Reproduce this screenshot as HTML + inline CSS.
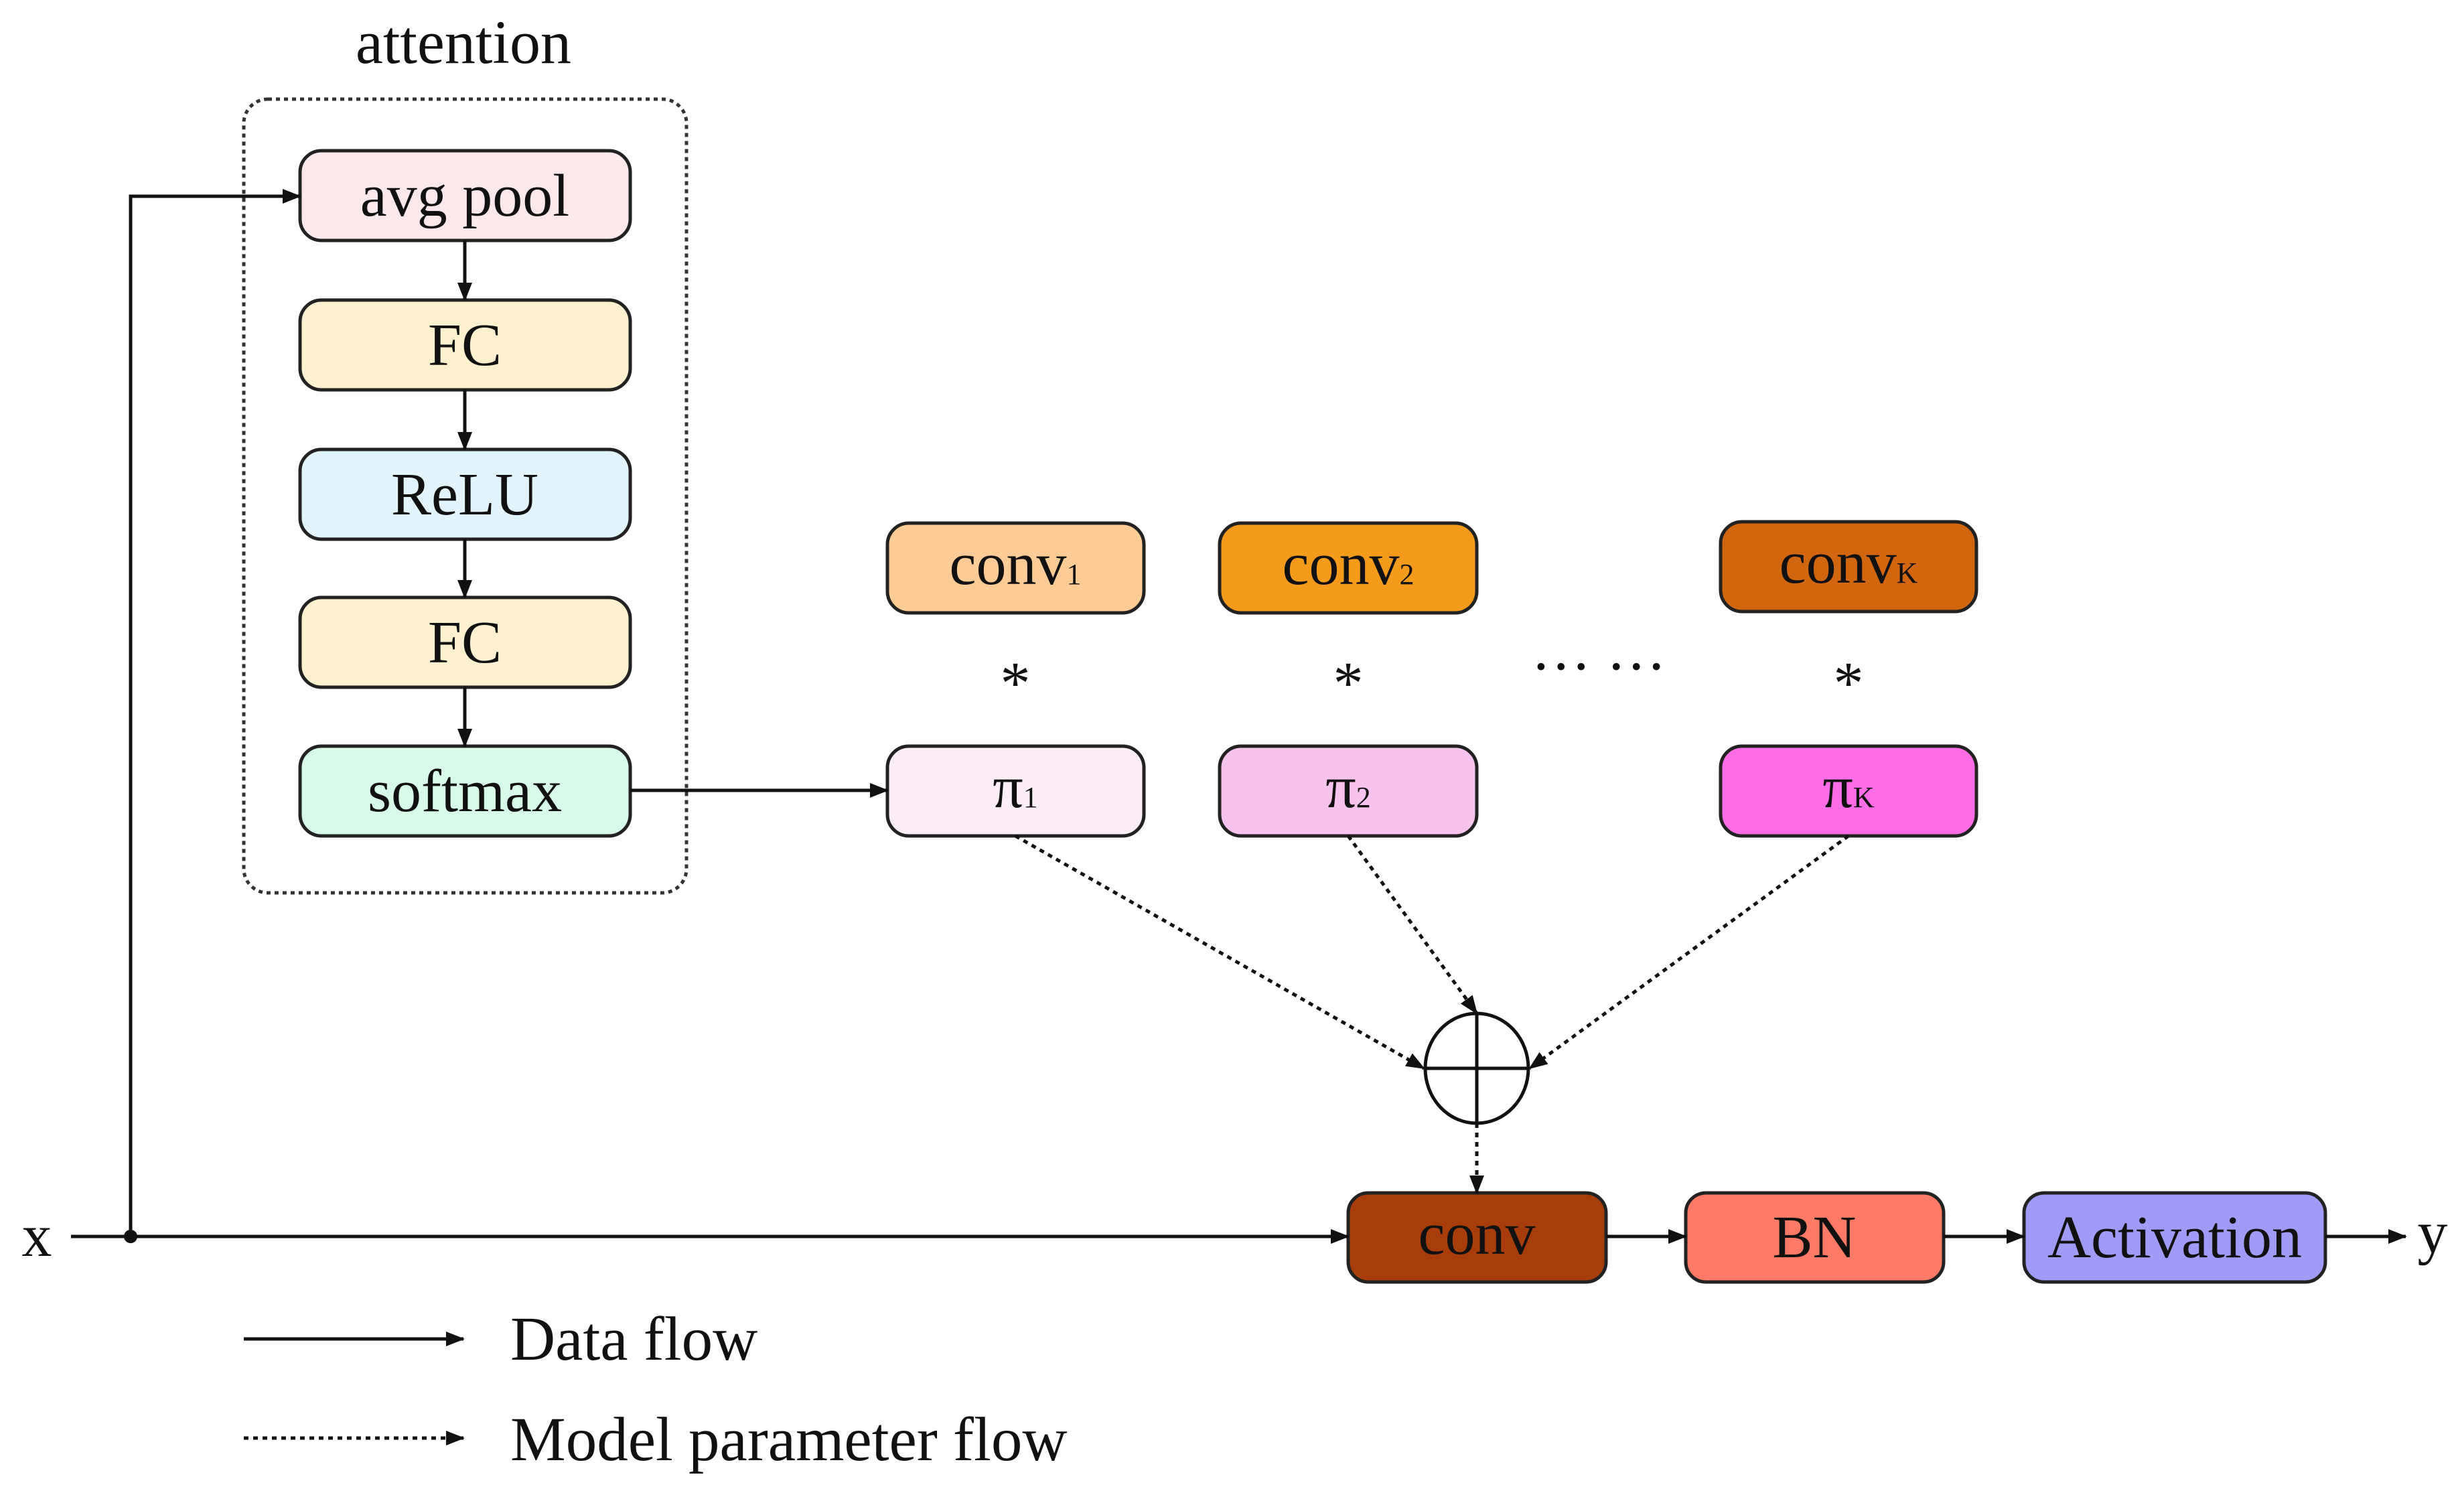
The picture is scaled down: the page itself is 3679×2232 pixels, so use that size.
<!DOCTYPE html>
<html><head><meta charset="utf-8"><style>
html,body{margin:0;padding:0;background:#fff;}
svg{display:block;}
text{font-family:"Liberation Serif",serif;fill:#111;}
</style></head><body>
<svg width="3679" height="2232" viewBox="0 0 3679 2232" xmlns="http://www.w3.org/2000/svg">
<defs>
<marker id="b" markerWidth="28" markerHeight="28" refX="26" refY="14" orient="auto" markerUnits="userSpaceOnUse"><path d="M0,3 L28,14 L0,25 z" fill="#111"/></marker>
</defs>
<text x="692" y="94" font-size="92" text-anchor="middle">attention</text>
<rect x="364" y="148" width="661" height="1185" rx="36" fill="none" stroke="#333" stroke-width="5" stroke-dasharray="6,6"/>
<g stroke="#222" stroke-width="5">
<rect x="448" y="225" width="493" height="134" rx="32" fill="#fde8ec"/>
<rect x="448" y="448" width="493" height="134" rx="32" fill="#fdf1d0"/>
<rect x="448" y="671" width="493" height="134" rx="32" fill="#e1f4fc"/>
<rect x="448" y="892" width="493" height="134" rx="32" fill="#fdf1d0"/>
<rect x="448" y="1114" width="493" height="134" rx="32" fill="#d7fbe8"/>
<rect x="1325" y="781" width="383" height="134" rx="32" fill="#fdcb96"/>
<rect x="1821" y="781" width="384" height="134" rx="32" fill="#f59b1b"/>
<rect x="2569" y="779" width="382" height="134" rx="32" fill="#d2660f"/>
<rect x="1325" y="1114" width="383" height="134" rx="32" fill="#fbeef6"/>
<rect x="1821" y="1114" width="384" height="134" rx="32" fill="#f6c3ec"/>
<rect x="2569" y="1114" width="382" height="134" rx="32" fill="#fd6ee6"/>
<rect x="2013" y="1781" width="385" height="133" rx="30" fill="#a63d0a"/>
<rect x="2517" y="1781" width="385" height="133" rx="30" fill="#fd7b66"/>
<rect x="3022" y="1781" width="450" height="133" rx="30" fill="#9f9bf7"/>
</g>
<g font-size="90" text-anchor="middle">
<text x="694" y="322">avg pool</text>
<text x="694" y="545">FC</text>
<text x="694" y="768">ReLU</text>
<text x="694" y="989">FC</text>
<text x="694" y="1211">softmax</text>
<text x="1516" y="872">conv<tspan font-size="44">1</tspan></text>
<text x="2013" y="872">conv<tspan font-size="44">2</tspan></text>
<text x="2760" y="870">conv<tspan font-size="44">K</tspan></text>
<text x="1516" y="1205">π<tspan font-size="44">1</tspan></text>
<text x="2013" y="1205">π<tspan font-size="44">2</tspan></text>
<text x="2760" y="1205">π<tspan font-size="44">K</tspan></text>
<text x="2205" y="1872">conv</text>
<text x="2709" y="1877">BN</text>
<text x="3247" y="1877">Activation</text>
<text x="1516" y="1050">*</text>
<text x="2013" y="1050">*</text>
<text x="2760" y="1050">*</text>
<text x="2387" y="1025">··· ···</text>
<text x="55" y="1875">x</text>
<text x="3632" y="1870">y</text>
</g>
<g stroke="#111" stroke-width="5" fill="none">
<line x1="694" y1="359" x2="694" y2="448" marker-end="url(#b)"/>
<line x1="694" y1="582" x2="694" y2="671" marker-end="url(#b)"/>
<line x1="694" y1="805" x2="694" y2="892" marker-end="url(#b)"/>
<line x1="694" y1="1026" x2="694" y2="1114" marker-end="url(#b)"/>
<line x1="941" y1="1180" x2="1325" y2="1180" marker-end="url(#b)"/>
<line x1="106" y1="1846" x2="2013" y2="1846" marker-end="url(#b)"/>
<polyline points="195,1846 195,293 448,293" marker-end="url(#b)"/>
<line x1="2398" y1="1846" x2="2517" y2="1846" marker-end="url(#b)"/>
<line x1="2902" y1="1846" x2="3022" y2="1846" marker-end="url(#b)"/>
<line x1="3472" y1="1846" x2="3592" y2="1846" marker-end="url(#b)"/>
<line x1="364" y1="1999" x2="692" y2="1999" marker-end="url(#b)"/>
</g>
<circle cx="195" cy="1846" r="10" fill="#111"/>
<g stroke="#111" stroke-width="5" fill="none" stroke-dasharray="7,7">
<line x1="1516" y1="1248" x2="2126" y2="1595" marker-end="url(#b)"/>
<line x1="2013" y1="1248" x2="2205" y2="1513" marker-end="url(#b)"/>
<line x1="2760" y1="1248" x2="2284" y2="1595" marker-end="url(#b)"/>
<line x1="2205" y1="1677" x2="2205" y2="1781" marker-end="url(#b)"/>
<line x1="364" y1="2147" x2="692" y2="2147" marker-end="url(#b)"/>
</g>
<g stroke="#111" stroke-width="5" fill="none">
<ellipse cx="2205" cy="1595" rx="77" ry="82"/>
<line x1="2128" y1="1595" x2="2282" y2="1595"/>
<line x1="2205" y1="1513" x2="2205" y2="1677"/>
</g>
<text x="762" y="2030" font-size="93">Data flow</text>
<text x="762" y="2180" font-size="93">Model parameter flow</text>
</svg>
</body></html>
